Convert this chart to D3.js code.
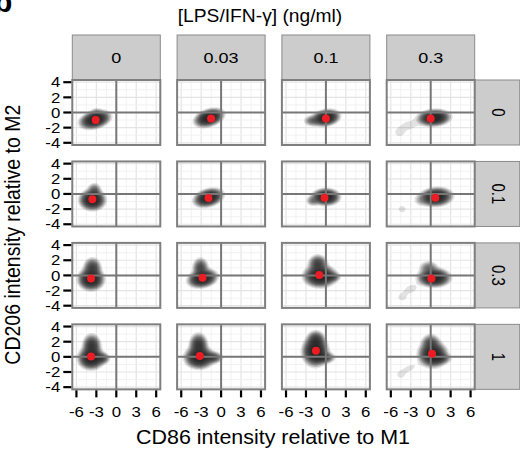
<!DOCTYPE html>
<html>
<head>
<meta charset="utf-8">
<script src="https://cdn.jsdelivr.net/npm/d3@7"></script>
<style>
body { margin: 0; background: #fff; }
text { font-family: "Liberation Sans", Arial, Helvetica, sans-serif; fill: #000; }
</style>
</head>
<body>
<svg width="520" height="449"></svg>
<script>
// facet labels
var colLabels = ["0", "0.03", "0.1", "0.3"];   // [LPS/IFN-g] (ng/ml)
var rowLabels = ["0", "0.1", "0.3", "1"];
var xTicks = [-6, -3, 0, 3, 6];
var yTicks = [-4, -2, 0, 2, 4];

// red dots (median of each panel), rows x cols
var dotX = [[-3.1, -1.5, 0.0, 0.0],
            [-3.6, -1.9, -0.2, 0.7],
            [-3.8, -2.8, -1.0, 0.1],
            [-3.8, -3.2, -1.5, 0.2]];
var dotY = [[-1.0, -0.8, -0.8, -0.8],
            [-0.7, -0.55, -0.5, -0.5],
            [-0.4, -0.3, 0.05, -0.4],
            [0.05, 0.1, 0.8, 0.4]];

// density blobs: [x, y, sdx, sdy, rho, height]
var blobs = [
  [ [[-3.2, -0.95, 0.95, 0.5, 0.3, 1], [-3.0, -0.2, 0.5, 0.4, 0, 0.1]],
    [[-1.8, -0.7, 0.9, 0.5, 0.35, 1]],
    [[0.0, -0.7, 0.85, 0.45, 0.2, 1], [-2.1, -1.1, 0.6, 0.35, 0, 0.15]],
    [[0.5, -0.7, 1.0, 0.45, 0.1, 1], [-3.3, -1.7, 1.2, 0.6, 0.3, 0.03], [-4.7, -2.7, 0.6, 0.45, 0, 0.028]] ],
  [ [[-3.6, -0.8, 0.8, 0.55, 0, 1], [-3.3, 0.4, 0.5, 0.5, 0, 0.2]],
    [[-1.9, -0.5, 0.9, 0.5, 0.3, 1]],
    [[0.0, -0.4, 0.85, 0.45, 0, 1], [-2.0, -0.9, 0.5, 0.35, 0, 0.12]],
    [[0.8, -0.4, 1.0, 0.5, 0.1, 1], [-1.5, -0.8, 0.6, 0.45, 0, 0.05], [-4.3, -2.0, 0.55, 0.45, 0, 0.03]] ],
  [ [[-3.8, -0.5, 0.8, 0.6, 0, 1], [-3.6, 1.0, 0.6, 0.6, 0, 0.35]],
    [[-2.8, -0.4, 0.9, 0.5, 0.2, 1], [-3.1, 1.0, 0.55, 0.6, 0, 0.3]],
    [[-0.9, -0.1, 1.0, 0.6, 0, 1], [-1.2, 1.5, 0.65, 0.55, 0, 0.35], [0.8, -0.2, 0.6, 0.3, 0, 0.3]],
    [[0.5, -0.3, 1.0, 0.5, 0, 1], [-0.3, 1.0, 0.7, 0.45, 0, 0.15], [-3.0, -1.8, 0.9, 0.55, 0.3, 0.03], [-4.3, -2.9, 0.6, 0.45, 0, 0.028]] ],
  [ [[-3.8, -0.2, 0.8, 0.6, 0, 1], [-3.7, 1.4, 0.6, 0.7, 0, 0.5], [-2.3, -0.2, 0.6, 0.35, 0, 0.35]],
    [[-3.3, -0.1, 0.9, 0.6, 0, 1], [-3.4, 1.5, 0.6, 0.7, 0, 0.5], [-1.3, -0.1, 0.7, 0.35, 0, 0.35]],
    [[-1.6, 0.7, 0.8, 0.8, 0, 1], [-1.5, 2.2, 0.6, 0.55, 0, 0.4], [-0.5, -0.1, 0.8, 0.35, 0, 0.45]],
    [[0.3, 0.3, 0.9, 0.7, 0, 1], [0.0, 1.8, 0.65, 0.55, 0, 0.3], [1.2, -0.2, 0.8, 0.35, 0, 0.4], [-3.2, -1.5, 1.0, 0.55, 0.5, 0.03], [-4.5, -2.4, 0.55, 0.45, 0, 0.028]] ]
];

var levels = [0.02, 0.04, 0.07, 0.1, 0.14, 0.19, 0.25, 0.33, 0.43, 0.56, 0.72];

var svg = d3.select("svg"),
    panelW = 88, panelH = 65,
    colStep = 104.8, rowStep = 81.45,
    leftX = 72.3, topY = 80,
    stripH = 45;

var x = d3.scaleLinear().domain([-6.62, 6.62]).range([0, panelW]);
var y = d3.scaleLinear().domain([-4.29, 4.29]).range([panelH, 0]);

// text is drawn a bit wider than tall in the original
function label(sel, px, py, txt, size, sx, rot, anchor) {
  return sel.append("text")
    .attr("transform", "translate(" + px + "," + py + ") scale(" + sx + ",1)" + (rot ? " rotate(" + rot + ")" : ""))
    .attr("text-anchor", anchor || "middle")
    .style("font-size", size + "px")
    .text(txt);
}

function density(comps, dx, dy) {
  var v = 0;
  comps.forEach(function(c) {
    var a = (dx - c[0]) / c[2], b = (dy - c[1]) / c[3], r = c[4];
    v += c[5] * Math.exp(-(a * a - 2 * r * a * b + b * b) / (2 * (1 - r * r)));
  });
  return v;
}

// column strips
colLabels.forEach(function(lab, j) {
  var gx = leftX + j * colStep;
  svg.append("rect").attr("x", gx).attr("y", topY - stripH).attr("width", panelW).attr("height", stripH)
    .attr("fill", "#cccccc").attr("stroke", "#8a8a8a").attr("stroke-width", 1);
  label(svg, gx + panelW / 2, topY - stripH / 2 + 5.5, lab, 15, 1.2);
});

// row strips
rowLabels.forEach(function(lab, i) {
  var gy = topY + i * rowStep, sx0 = leftX + 3 * colStep + panelW;
  svg.append("rect").attr("x", sx0).attr("y", gy).attr("width", stripH).attr("height", panelH)
    .attr("fill", "#cccccc").attr("stroke", "#8a8a8a").attr("stroke-width", 1);
  label(svg, sx0 + stripH / 2 - 5.5, gy + panelH / 2, lab, 15, 1.2, 90);
});

var minorX = d3.range(-6, 6.1, 1.5), minorY = d3.range(-4, 4.1, 1);

rowLabels.forEach(function(rl, i) {
  colLabels.forEach(function(cl, j) {
    var g = svg.append("g")
      .attr("transform", "translate(" + (leftX + j * colStep) + "," + (topY + i * rowStep) + ")");

    g.append("rect").attr("width", panelW).attr("height", panelH).attr("fill", "#fff");

    // grid
    g.selectAll(".gx").data(minorX).enter().append("line")
      .attr("x1", function(d) { return x(d); }).attr("x2", function(d) { return x(d); })
      .attr("y1", 0).attr("y2", panelH)
      .attr("stroke", function(d) { return d % 3 === 0 ? "#e4e4e4" : "#f1f1f1"; })
      .attr("stroke-width", function(d) { return d % 3 === 0 ? 1.2 : 0.9; });
    g.selectAll(".gy").data(minorY).enter().append("line")
      .attr("y1", function(d) { return y(d); }).attr("y2", function(d) { return y(d); })
      .attr("x1", 0).attr("x2", panelW)
      .attr("stroke", function(d) { return d % 2 === 0 ? "#e4e4e4" : "#f1f1f1"; })
      .attr("stroke-width", function(d) { return d % 2 === 0 ? 1.2 : 0.9; });

    // density contours on a half-pixel grid
    var comps = blobs[i][j], n = panelW * 2, m = panelH * 2, vals = new Array(n * m), maxV = 0;
    for (var r = 0; r < m; r++) {
      for (var c = 0; c < n; c++) {
        var v = density(comps, x.invert((c + 0.5) / 2), y.invert((r + 0.5) / 2));
        vals[r * n + c] = v;
        if (v > maxV) maxV = v;
      }
    }
    var contours = d3.contours().size([n, m])
      .thresholds(levels.map(function(l) { return l * maxV; }))(vals);
    g.selectAll("path.dens").data(contours).enter().append("path")
      .attr("class", "dens")
      .attr("d", d3.geoPath(d3.geoIdentity().scale(0.5)))
      .attr("fill", "#111")
      .attr("fill-opacity", function(d, k) { return k === 0 ? 0.12 : 0.19; });

    // zero lines
    g.append("line").attr("x1", x(0)).attr("x2", x(0)).attr("y1", 0).attr("y2", panelH)
      .attr("stroke", "#777").attr("stroke-width", 2);
    g.append("line").attr("y1", y(0)).attr("y2", y(0)).attr("x1", 0).attr("x2", panelW)
      .attr("stroke", "#777").attr("stroke-width", 2);

    g.append("circle").attr("cx", x(dotX[i][j])).attr("cy", y(dotY[i][j])).attr("r", 4)
      .attr("fill", "#ec1c24");

    g.append("rect").attr("width", panelW).attr("height", panelH)
      .attr("fill", "none").attr("stroke", "#7f7f7f").attr("stroke-width", 2);

    // y axis on first column
    if (j === 0) {
      g.selectAll(".yt").data(yTicks).enter().append("line")
        .attr("x1", -9).attr("x2", -1)
        .attr("y1", function(d) { return y(d); }).attr("y2", function(d) { return y(d); })
        .attr("stroke", "#000").attr("stroke-width", 2.2);
      yTicks.forEach(function(t) {
        label(g, -12, y(t) + 5.2, t, 15, 1.12, 0, "end");
      });
    }
    // x axis on last row
    if (i === rowLabels.length - 1) {
      g.selectAll(".xt").data(xTicks).enter().append("line")
        .attr("y1", panelH + 1).attr("y2", panelH + 8)
        .attr("x1", function(d) { return x(d); }).attr("x2", function(d) { return x(d); })
        .attr("stroke", "#000").attr("stroke-width", 2.2);
      xTicks.forEach(function(t) {
        label(g, x(t), panelH + 27.5, t, 15, 1.12);
      });
    }
  });
});

// titles
label(svg, 260, 22, "[LPS/IFN-γ] (ng/ml)", 17.5, 1.1);
label(svg, 273, 444, "CD86 intensity relative to M1", 19.5, 1.1);
label(svg, 20, 234.7, "CD206 intensity relative to M2", 19.5, 1.1, -90);
svg.append("text").attr("x", -6).attr("y", 12)
  .style("font-size", "30px").style("font-weight", "bold").text("b");
</script>
</body>
</html>
